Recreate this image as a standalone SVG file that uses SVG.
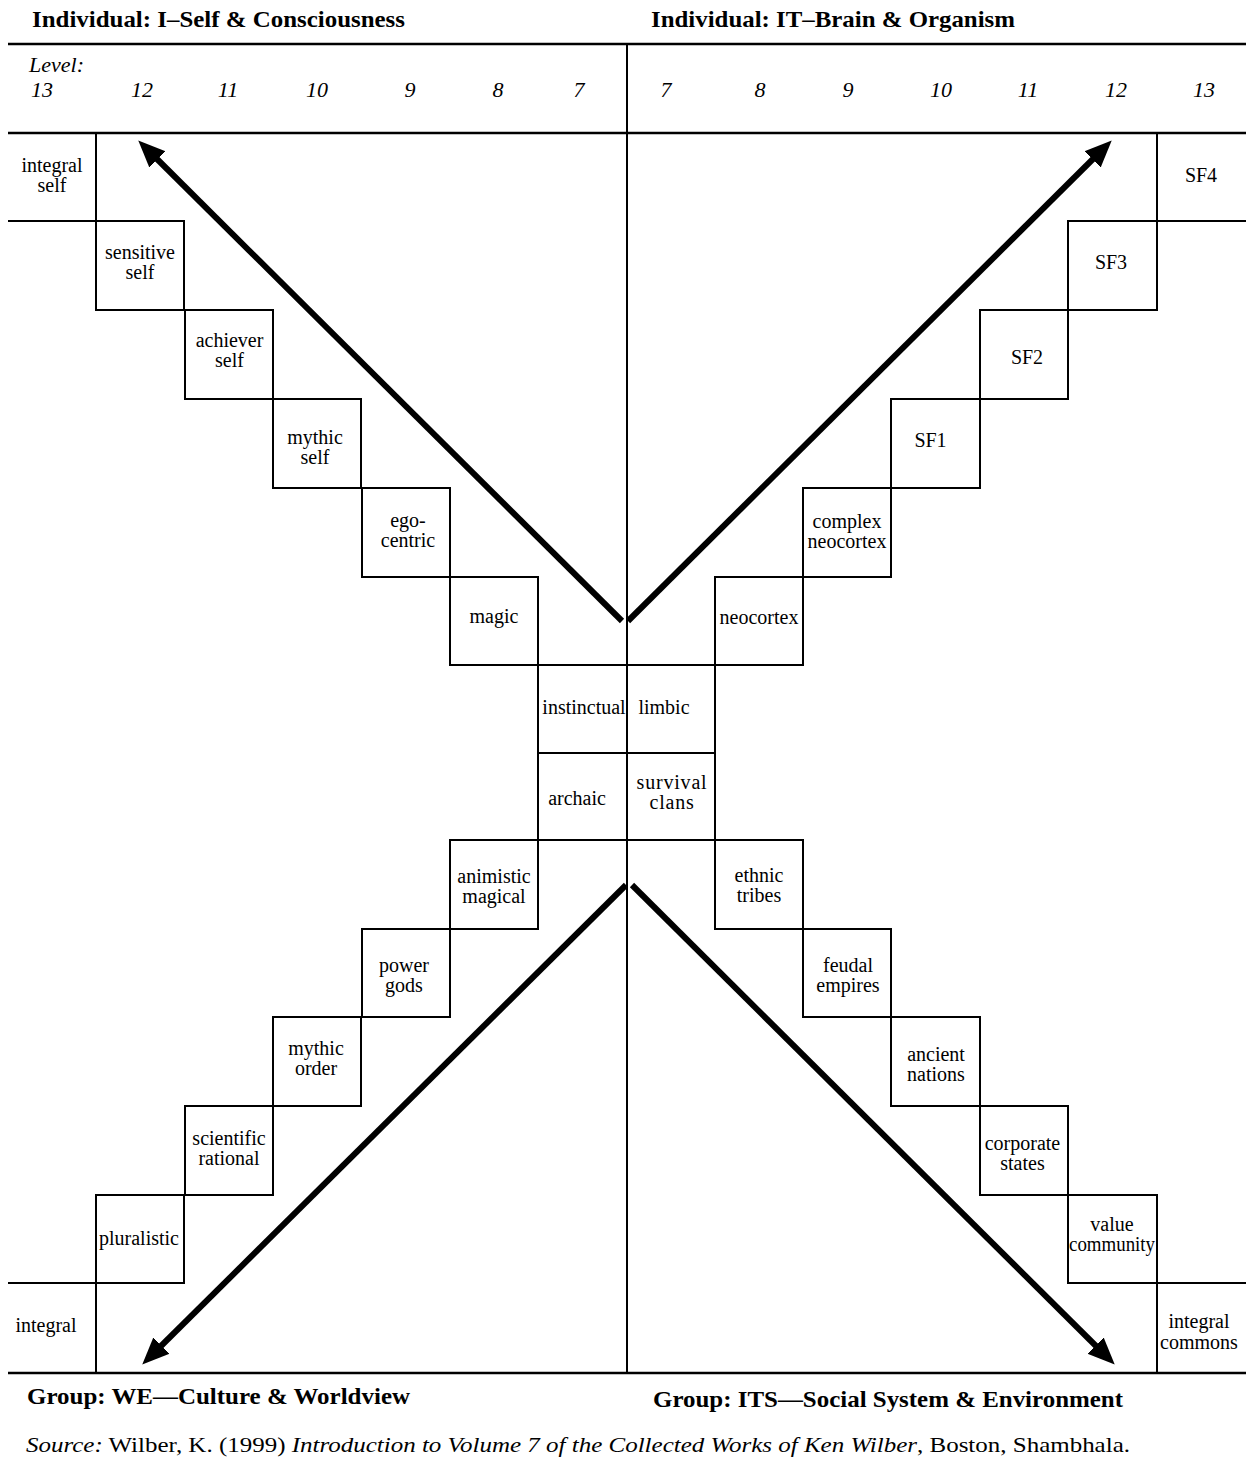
<svg xmlns="http://www.w3.org/2000/svg" width="1258" height="1464" viewBox="0 0 1258 1464">
<style>
.bg{fill:#ffffff}
.ln{stroke:#000;stroke-width:2;fill:none}
.ln2{stroke:#000;stroke-width:2.5;fill:none}
.box{stroke:#000;stroke-width:2;fill:none}
.lb{font-family:"Liberation Serif","Times New Roman",serif;font-size:20px;fill:#000;text-anchor:middle}
.ttl{font-family:"Liberation Serif","Times New Roman",serif;font-size:23px;font-weight:bold;fill:#000}
.lvl{font-family:"Liberation Serif","Times New Roman",serif;font-size:22px;font-style:italic;fill:#000}
.num{font-family:"Liberation Serif","Times New Roman",serif;font-size:22px;font-style:italic;fill:#000;text-anchor:middle}
.src{font-family:"Liberation Serif","Times New Roman",serif;font-size:22px;fill:#000}
.arr{stroke:#000;stroke-width:6;fill:none;marker-end:url(#head)}
</style>
<defs>
<marker id="head" markerUnits="userSpaceOnUse" markerWidth="30" markerHeight="26" viewBox="0 0 30 26" refX="2" refY="13" orient="auto">
<path d="M0,1.5 L27,13 L0,24.5 Z" fill="#000"/>
</marker>
</defs>
<rect class="bg" x="0" y="0" width="1258" height="1464"/>

<g id="frame">
<line class="ln2" x1="8" y1="44" x2="1246" y2="44"/>
<line class="ln2" x1="8" y1="133" x2="1246" y2="133"/>
<line class="ln2" x1="8" y1="1373" x2="1246" y2="1373"/>
<line class="ln" x1="627" y1="44" x2="627" y2="1373"/>
</g>

<g id="titles">
<text class="ttl" x="32" y="27" textLength="373" lengthAdjust="spacingAndGlyphs">Individual: I–Self &amp; Consciousness</text>
<text class="ttl" x="651" y="27" textLength="364" lengthAdjust="spacingAndGlyphs">Individual: IT–Brain &amp; Organism</text>
<text class="ttl" x="27" y="1404" textLength="383" lengthAdjust="spacingAndGlyphs">Group: WE—Culture &amp; Worldview</text>
<text class="ttl" x="653" y="1407" textLength="470" lengthAdjust="spacingAndGlyphs">Group: ITS—Social System &amp; Environment</text>
<text class="src" x="26" y="1452" textLength="1104" lengthAdjust="spacingAndGlyphs"><tspan font-style="italic">Source:</tspan> Wilber, K. (1999) <tspan font-style="italic">Introduction to Volume 7 of the Collected Works of Ken Wilber</tspan>, Boston, Shambhala.</text>
</g>

<g id="levels">
<text class="lvl" x="29" y="72">Level:</text>
<text class="num" x="42" y="97">13</text>
<text class="num" x="142" y="97">12</text>
<text class="num" x="228" y="97">11</text>
<text class="num" x="317" y="97">10</text>
<text class="num" x="410" y="97">9</text>
<text class="num" x="498" y="97">8</text>
<text class="num" x="579" y="97">7</text>
<text class="num" x="666" y="97">7</text>
<text class="num" x="760" y="97">8</text>
<text class="num" x="848" y="97">9</text>
<text class="num" x="941" y="97">10</text>
<text class="num" x="1028" y="97">11</text>
<text class="num" x="1116" y="97">12</text>
<text class="num" x="1204" y="97">13</text>
</g>

<!-- Upper left: I quadrant -->
<g id="n-integral-self">
<path class="ln" d="M8,221 H96 V133"/>
<text class="lb" x="52" y="172">integral</text>
<text class="lb" x="52" y="192">self</text>
</g>
<g id="n-sensitive-self">
<rect class="box" x="96" y="221" width="88" height="89"/>
<text class="lb" x="140" y="259">sensitive</text>
<text class="lb" x="140" y="279">self</text>
</g>
<g id="n-achiever-self">
<rect class="box" x="185" y="310" width="88" height="89"/>
<text class="lb" x="229.5" y="347">achiever</text>
<text class="lb" x="229.5" y="367">self</text>
</g>
<g id="n-mythic-self">
<rect class="box" x="273" y="399" width="88" height="89"/>
<text class="lb" x="315" y="444">mythic</text>
<text class="lb" x="315" y="464">self</text>
</g>
<g id="n-ego-centric">
<rect class="box" x="362" y="488" width="88" height="89"/>
<text class="lb" x="408" y="527">ego-</text>
<text class="lb" x="408" y="547">centric</text>
</g>
<g id="n-magic">
<rect class="box" x="450" y="577" width="88" height="88"/>
<text class="lb" x="494" y="623">magic</text>
</g>
<g id="n-instinctual">
<rect class="box" x="538" y="665" width="89" height="88"/>
<text class="lb" x="584" y="714">instinctual</text>
</g>
<g id="n-archaic">
<rect class="box" x="538" y="753" width="89" height="87"/>
<text class="lb" x="577" y="805">archaic</text>
</g>

<!-- Upper right: IT quadrant -->
<g id="n-limbic">
<rect class="box" x="627" y="665" width="88" height="88"/>
<text class="lb" x="664" y="714">limbic</text>
</g>
<g id="n-neocortex">
<rect class="box" x="715" y="577" width="88" height="88"/>
<text class="lb" x="759" y="624">neocortex</text>
</g>
<g id="n-complex-neocortex">
<rect class="box" x="803" y="488" width="88" height="89"/>
<text class="lb" x="847" y="528">complex</text>
<text class="lb" x="847" y="548">neocortex</text>
</g>
<g id="n-sf1">
<rect class="box" x="891" y="399" width="89" height="89"/>
<text class="lb" x="930.5" y="447">SF1</text>
</g>
<g id="n-sf2">
<rect class="box" x="980" y="310" width="88" height="89"/>
<text class="lb" x="1027" y="364">SF2</text>
</g>
<g id="n-sf3">
<rect class="box" x="1068" y="221" width="89" height="89"/>
<text class="lb" x="1111" y="269">SF3</text>
</g>
<g id="n-sf4">
<path class="ln" d="M1157,133 V221 H1246"/>
<text class="lb" x="1201" y="182">SF4</text>
</g>

<!-- Lower left: WE quadrant -->
<g id="n-animistic-magical">
<rect class="box" x="450" y="840" width="88" height="89"/>
<text class="lb" x="494" y="883">animistic</text>
<text class="lb" x="494" y="903">magical</text>
</g>
<g id="n-power-gods">
<rect class="box" x="362" y="929" width="88" height="88"/>
<text class="lb" x="404" y="972">power</text>
<text class="lb" x="404" y="992">gods</text>
</g>
<g id="n-mythic-order">
<rect class="box" x="273" y="1017" width="88" height="89"/>
<text class="lb" x="316" y="1055">mythic</text>
<text class="lb" x="316" y="1075">order</text>
</g>
<g id="n-scientific-rational">
<rect class="box" x="185" y="1106" width="88" height="89"/>
<text class="lb" x="229" y="1145">scientific</text>
<text class="lb" x="229" y="1165">rational</text>
</g>
<g id="n-pluralistic">
<rect class="box" x="96" y="1195" width="88" height="88"/>
<text class="lb" x="139" y="1245">pluralistic</text>
</g>
<g id="n-integral">
<path class="ln" d="M8,1283 H96 V1373"/>
<text class="lb" x="46" y="1332">integral</text>
</g>

<!-- Lower right: ITS quadrant -->
<g id="n-survival-clans">
<rect class="box" x="627" y="753" width="88" height="87"/>
<text class="lb" x="672" y="789" letter-spacing="0.8">survival</text>
<text class="lb" x="672" y="809" letter-spacing="0.8">clans</text>
</g>
<g id="n-ethnic-tribes">
<rect class="box" x="715" y="840" width="88" height="89"/>
<text class="lb" x="759" y="882">ethnic</text>
<text class="lb" x="759" y="902">tribes</text>
</g>
<g id="n-feudal-empires">
<rect class="box" x="803" y="929" width="88" height="88"/>
<text class="lb" x="848" y="972">feudal</text>
<text class="lb" x="848" y="992">empires</text>
</g>
<g id="n-ancient-nations">
<rect class="box" x="891" y="1017" width="89" height="89"/>
<text class="lb" x="936" y="1061">ancient</text>
<text class="lb" x="936" y="1081">nations</text>
</g>
<g id="n-corporate-states">
<rect class="box" x="980" y="1106" width="88" height="89"/>
<text class="lb" x="1022.5" y="1150">corporate</text>
<text class="lb" x="1022.5" y="1170">states</text>
</g>
<g id="n-value-community">
<rect class="box" x="1068" y="1195" width="89" height="88"/>
<text class="lb" x="1112" y="1231">value</text>
<text class="lb" x="1112" y="1251" textLength="86" lengthAdjust="spacingAndGlyphs">community</text>
</g>
<g id="n-integral-commons">
<path class="ln" d="M1157,1373 V1283 H1246"/>
<text class="lb" x="1199" y="1328">integral</text>
<text class="lb" x="1199" y="1349">commons</text>
</g>

<g id="connectors">
<line class="arr" x1="622" y1="621" x2="156" y2="158"/>
<line class="arr" x1="628" y1="621" x2="1094" y2="158"/>
<line class="arr" x1="626" y1="885" x2="160" y2="1347"/>
<line class="arr" x1="632" y1="885" x2="1097" y2="1347"/>
</g>
</svg>
